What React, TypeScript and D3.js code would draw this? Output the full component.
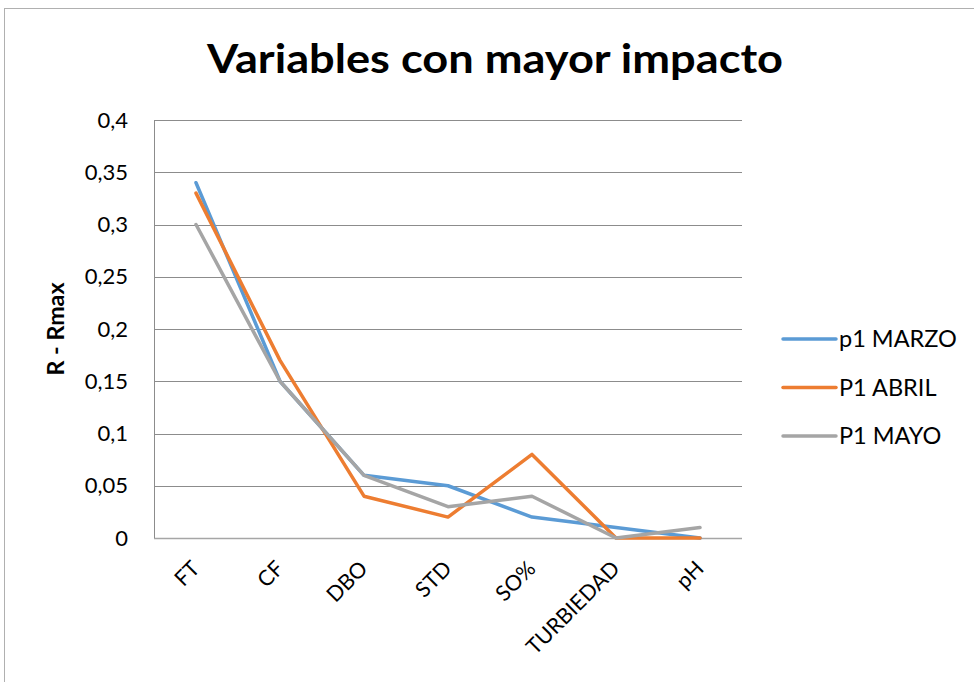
import React from "react";
import * as d3 from "d3";

const categories = ["FT", "CF", "DBO", "STD", "SO%", "TURBIEDAD", "pH"];
const seriesNames = ["p1 MARZO", "P1 ABRIL", "P1 MAYO"];
const marzo = [0.34, 0.15, 0.06, 0.05, 0.02, 0.01, 0];
const abril = [0.33, 0.17, 0.04, 0.02, 0.08, 0, 0];
const mayo = [0.3, 0.15, 0.06, 0.03, 0.04, 0, 0.01];
const yTicks = [0, 0.05, 0.1, 0.15, 0.2, 0.25, 0.3, 0.35, 0.4];
const colors = ["#5B9BD5", "#ED7D31", "#A5A5A5"];

const W = 974, H = 682;
const FONT = "Lato, 'Open Sans', sans-serif";

export default function App() {
  const x = d3.scaleBand().domain(categories).range([154, 742]);
  const y = d3.scaleLinear().domain([0, 0.4]).range([538, 120]);
  const line = d3
    .line<number>()
    .x((_, i) => (x(categories[i]) as number) + x.bandwidth() / 2)
    .y((d) => y(d));
  const data = [marzo, abril, mayo];
  const fmt = (v: number) => String(v).replace(".", ",");
  return (
    <svg width={W} height={H} style={{ position: "absolute", left: 0, top: 0 }}>
      <rect x={0} y={0} width={W} height={H} fill="#fff" />
      <rect x={4.5} y={8.5} width={W + 20} height={H + 20} fill="none" stroke="#b0b0b0" strokeWidth={1} />
      <text x={495} y={73} textAnchor="middle" fontFamily={FONT} fontWeight="bold" fontSize={41} fill="#000" textLength={576} lengthAdjust="spacingAndGlyphs">
        Variables con mayor impacto
      </text>
      {yTicks.map((t) => (
        <g key={t}>
          <line x1={154} x2={742} y1={Math.round(y(t)) + 0.5} y2={Math.round(y(t)) + 0.5} stroke={t === 0 ? "#a6a6a6" : "#8c8c8c"} strokeWidth={t === 0 ? 1.5 : 1} />
          <text x={128} y={y(t) + 7.5} textAnchor="end" fontFamily={FONT} fontSize={22} fill="#000">
            {fmt(t)}
          </text>
        </g>
      ))}
      <line x1={154.5} x2={154.5} y1={120} y2={538} stroke="#8c8c8c" />
      <text transform={`translate(64,329) rotate(-90)`} textAnchor="middle" fontFamily={FONT} fontWeight="bold" fontSize={22} fill="#000" textLength={93} lengthAdjust="spacingAndGlyphs">
        R - Rmax
      </text>
      {categories.map((c) => {
        const cx = (x(c) as number) + x.bandwidth() / 2;
        return (
          <text key={c} transform={`translate(${cx + 5},${570}) rotate(-45)`} textAnchor="end" fontFamily={FONT} fontSize={21.5} fill="#000">
            {c}
          </text>
        );
      })}
      {data.map((s, i) => (
        <path key={i} d={line(s) as string} fill="none" stroke={colors[i]} strokeWidth={3.5} strokeLinejoin="round" strokeLinecap="round" />
      ))}
      {seriesNames.map((n, i) => (
        <g key={n}>
          <line x1={783} x2={836} y1={339 + i * 48.5} y2={339 + i * 48.5} stroke={colors[i]} strokeWidth={3.5} strokeLinecap="round" />
          <text x={839} y={339 + i * 48.5 + 8} fontFamily={FONT} fontSize={23.5} fill="#000">
            {n}
          </text>
        </g>
      ))}
    </svg>
  );
}
